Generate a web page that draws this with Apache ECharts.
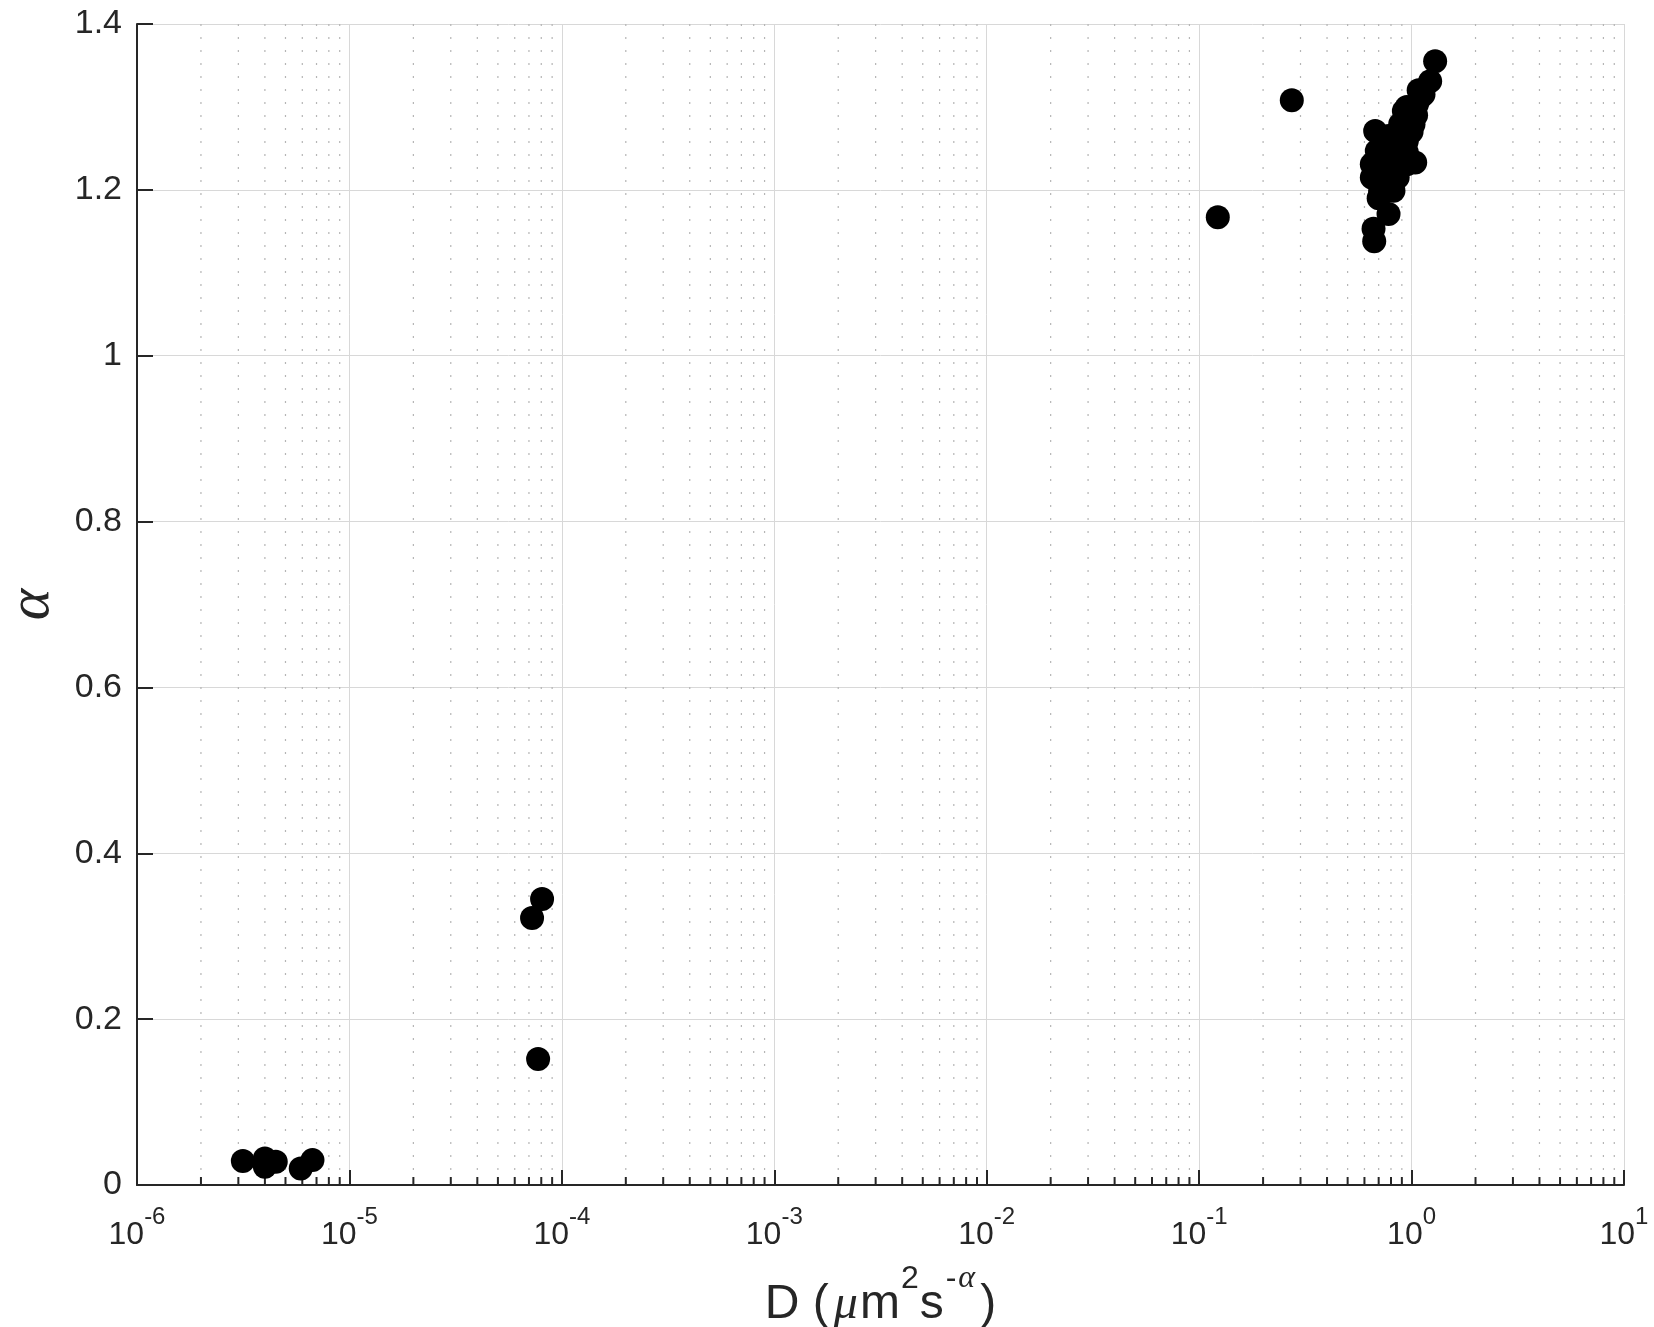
<!DOCTYPE html>
<html>
<head>
<meta charset="utf-8">
<script src="https://cdn.jsdelivr.net/npm/echarts@6/dist/echarts.min.js"></script>
<style>
  html, body { margin: 0; padding: 0; background: #fff; }
  #main { width: 1654px; height: 1327px; }
</style>
</head>
<body>
<div id="main"></div>
<script>
// D values (um^2 s^-alpha) and alpha
var dValues = [
  3.15e-6, 4.0e-6, 4.0e-6, 4.5e-6, 5.9e-6, 6.7e-6,
  8.07e-5, 7.24e-5, 7.73e-5,
  0.1224, 0.273,
  1.291, 1.223, 1.138, 1.059, 0.967, 0.884, 1.021, 0.674, 0.793, 0.950,
  0.686, 0.852, 0.650, 0.793, 0.950, 1.040, 0.650, 0.793, 0.711, 0.822,
  0.779, 0.662, 0.667, 0.738, 0.884, 1.098, 0.760,
  0.92, 0.80, 0.88, 0.72, 0.70, 0.86, 1.00, 1.08,
  0.95, 0.76, 0.95, 0.68, 0.80, 0.78, 1.05
];
var alphaValues = [
  0.029, 0.032, 0.022, 0.028, 0.020, 0.030,
  0.345, 0.322, 0.152,
  1.167, 1.308,
  1.355, 1.331, 1.315, 1.303, 1.291, 1.279, 1.279, 1.271, 1.263, 1.259,
  1.247, 1.243, 1.231, 1.227, 1.231, 1.233, 1.215, 1.211, 1.199, 1.199,
  1.171, 1.153, 1.138, 1.223, 1.255, 1.311, 1.235,
  1.295, 1.250, 1.235, 1.225, 1.190, 1.215, 1.270, 1.320,
  1.300, 1.245, 1.245, 1.235, 1.220, 1.265, 1.290
];

var yTicks = [0, 0.2, 0.4, 0.6, 0.8, 1, 1.2, 1.4];
var xMin = 1e-6, xMax = 10;

// minor grid positions 2..9 in each decade
var minorValues = [];
for (var e = -6; e < 1; e++) {
  for (var m = 2; m <= 9; m++) {
    minorValues.push(m * Math.pow(10, e));
  }
}

var points = dValues.map(function (d, i) { return [d, alphaValues[i]]; });

var axisColor = '#262626';
var font = 'Liberation Sans, Arial, Helvetica, sans-serif';
var serif = 'Liberation Serif, serif';

var myChart = echarts.init(document.getElementById('main'));

option = {
  backgroundColor: '#ffffff',
  animation: false,
  grid: { left: 137, right: 30, top: 24, bottom: 142, containLabel: false, outerBoundsMode: 'none' },
  xAxis: {
    type: 'log',
    logBase: 10,
    min: xMin,
    max: xMax,
    splitNumber: 7,
    name: '{t|D (}{i|μ}{t|m}{s|2}{t|s}{m|-}{si|α}{t|)}',
    nameLocation: 'middle',
    nameGap: 78,
    nameTextStyle: {
      rich: {
        t: { fontSize: 48, fontFamily: font, color: axisColor, lineHeight: 66, verticalAlign: 'bottom' },
        i: { fontSize: 48, fontFamily: serif, fontStyle: 'italic', color: axisColor, lineHeight: 66, verticalAlign: 'bottom', padding: [0, 2, 0, 5] },
        s: { fontSize: 32, fontFamily: font, color: axisColor, lineHeight: 22, verticalAlign: 'top', padding: [0, 1, 0, 1] },
        m: { fontSize: 32, fontFamily: font, color: axisColor, lineHeight: 22, verticalAlign: 'top', padding: [0, 1, 0, 2] },
        si: { fontSize: 32, fontFamily: serif, fontStyle: 'italic', color: axisColor, lineHeight: 22, verticalAlign: 'top', padding: [0, 5, 0, 1] }
      }
    },
    axisLine: { show: true, onZero: false, lineStyle: { color: axisColor, width: 2 } },
    axisTick: { show: true, inside: true, length: 15, lineStyle: { color: axisColor, width: 2 } },
    axisLabel: {
      margin: 20,
      showMinLabel: true,
      showMaxLabel: true,
      formatter: function (v) {
        var p = Math.round(Math.log(v) / Math.LN10);
        return '{b|10}{e|' + p + '}';
      },
      rich: {
        b: { fontSize: 32, fontFamily: font, color: axisColor, lineHeight: 46, verticalAlign: 'bottom' },
        e: { fontSize: 24, fontFamily: font, color: axisColor, lineHeight: 22, verticalAlign: 'top' }
      }
    },
    splitLine: { show: true, lineStyle: { color: '#d8d8d8', width: 1 } }
  },
  yAxis: {
    type: 'value',
    min: yTicks[0],
    max: yTicks[yTicks.length - 1],
    interval: 0.2,
    name: 'α',
    nameLocation: 'middle',
    nameGap: 75,
    nameTextStyle: { fontSize: 60, fontFamily: serif, fontStyle: 'italic', color: axisColor },
    axisLine: { show: true, onZero: false, lineStyle: { color: axisColor, width: 2 } },
    axisTick: { show: true, inside: true, length: 16, lineStyle: { color: axisColor, width: 2 } },
    axisLabel: { margin: 15, fontSize: 34, fontFamily: font, color: axisColor },
    splitLine: { show: true, lineStyle: { color: '#d8d8d8', width: 1 } }
  },
  series: [
    {
      // dotted minor grid + minor ticks
      type: 'custom',
      silent: true,
      z: 1,
      data: minorValues.map(function (v) { return [v, 0]; }),
      encode: { x: 0, y: 1 },
      renderItem: function (params, api) {
        var x = api.value(0);
        var top = api.coord([x, yTicks[yTicks.length - 1]]);
        var bot = api.coord([x, yTicks[0]]);
        return {
          type: 'group',
          children: [
            { type: 'line', shape: { x1: top[0], y1: top[1], x2: bot[0], y2: bot[1] },
              style: { stroke: '#b5b5b5', lineWidth: 1.2, lineDash: [2, 11] } },
            { type: 'line', shape: { x1: bot[0], y1: bot[1], x2: bot[0], y2: bot[1] - 8 },
              style: { stroke: axisColor, lineWidth: 2 } }
          ]
        };
      }
    },
    {
      type: 'scatter',
      z: 3,
      symbol: 'circle',
      symbolSize: 24,
      itemStyle: { color: '#000000', opacity: 1 },
      data: points
    }
  ]
};

myChart.setOption(option);
</script>
</body>
</html>
